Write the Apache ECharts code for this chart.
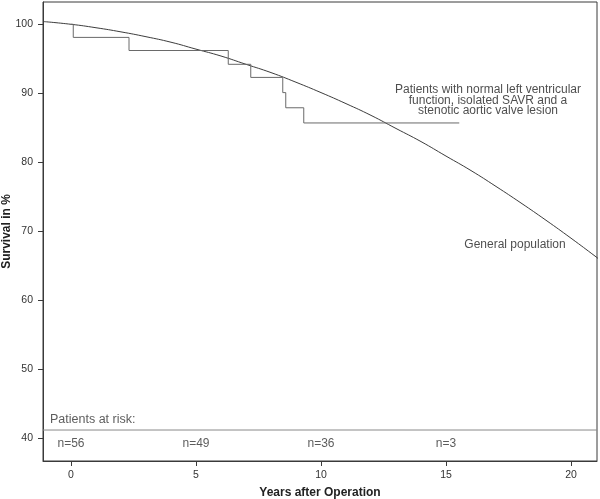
<!DOCTYPE html>
<html>
<head>
<meta charset="utf-8">
<script src="https://cdn.jsdelivr.net/npm/echarts@6/dist/echarts.min.js"></script>
<style>
html,body{margin:0;padding:0;background:#fff;}
#chart{width:600px;height:499px;}
</style>
</head>
<body>
<div id="chart"></div>
<script>
// Axis ticks
var xTicks = [0, 5, 10, 15, 20];
var yTicks = [40, 50, 60, 70, 80, 90, 100];

// General population expected survival
var genYears = [-1.12, 0, 1, 2, 3, 4, 5, 6, 7, 8, 9, 10, 11, 12, 13, 14, 15, 16, 17, 18, 19, 20, 21, 21.1];
var genSurv  = [100.4, 100, 99.5, 98.9, 98.2, 97.4, 96.4, 95.4, 94.2, 93.0, 91.6, 90.1, 88.5, 86.8, 84.9, 83.0, 80.9, 78.8, 76.5, 74.1, 71.6, 69.0, 66.3, 66.0];

// Kaplan-Meier survival of the patient group
var kmYears = [0, 0.09, 2.32, 6.29, 7.19, 8.47, 8.59, 9.31, 15.53];
var kmSurv  = [100, 98.1, 96.2, 94.2, 92.3, 90.1, 87.9, 85.7, 85.7];

// Patients at risk
var riskYears = [0, 5, 10, 15];
var riskCounts = [56, 49, 36, 3];
var riskTitle = 'Patients at risk:';
var riskLineY = 41.2;
var riskTextY = 39.2;
var riskTitlePos = [-0.84, 42.75];

// Annotations
var groupLabel = 'Patients with normal left ventricular\nfunction, isolated SAVR and a\nstenotic aortic valve lesion';
var groupLabelPos = [16.68, 89.0];
var popLabel = 'General population';
var popLabelPos = [17.76, 68.0];

var xMin = -1.12, xMax = 21.04, yMin = 36.71, yMax = 103.23;

function zip(a, b) { return a.map(function (v, i) { return [v, b[i]]; }); }

var FONT = '"Liberation Sans", Arial, sans-serif';
var chart = echarts.init(document.getElementById('chart'), null, {renderer: 'canvas'});

function textSeries(points, texts, opts) {
  return {
    type: 'scatter',
    symbolSize: 0,
    silent: true,
    z: 5,
    data: points.map(function (p, i) { return {value: p, name: texts[i]}; }),
    label: Object.assign({
      show: true,
      position: 'inside',
      formatter: function (p) { return p.name; },
      fontFamily: FONT,
      fontSize: 12,
      color: '#222',
      align: 'center',
      verticalAlign: 'middle'
    }, opts || {})
  };
}

var option = {
  animation: false,
  backgroundColor: '#fff',
  grid: {
    left: 43, right: 3, top: 2, bottom: 38,
    containLabel: false, outerBoundsMode: 'none',
    show: true, borderColor: '#3a3a3a', borderWidth: 1, backgroundColor: 'transparent'
  },
  xAxis: {
    type: 'value', min: xMin, max: xMax,
    name: 'Years after Operation', nameLocation: 'middle', nameGap: 26, nameMoveOverlap: false,
    nameTextStyle: {fontFamily: FONT, fontSize: 12, fontWeight: 'bold', color: '#222'},
    axisLine: {show: true, onZero: false, lineStyle: {color: '#3a3a3a', width: 1}},
    axisTick: {show: true, length: 5, customValues: xTicks, lineStyle: {color: '#3a3a3a'}},
    axisLabel: {customValues: xTicks, fontFamily: FONT, fontSize: 10.5, color: '#333', margin: 9},
    splitLine: {show: false}
  },
  yAxis: {
    type: 'value', min: yMin, max: yMax,
    name: 'Survival in %', nameLocation: 'middle', nameGap: 30, nameRotate: 90, nameMoveOverlap: false,
    nameTextStyle: {fontFamily: FONT, fontSize: 12, fontWeight: 'bold', color: '#222'},
    axisLine: {show: true, onZero: false, lineStyle: {color: '#3a3a3a', width: 1}},
    axisTick: {show: true, length: 5, customValues: yTicks, lineStyle: {color: '#3a3a3a'}},
    axisLabel: {customValues: yTicks, fontFamily: FONT, fontSize: 10.5, color: '#333', margin: 10},
    splitLine: {show: false}
  },
  series: [
    {
      type: 'line', name: 'General population',
      data: zip(genYears, genSurv), smooth: true, showSymbol: false, clip: true,
      lineStyle: {color: '#3c3c3c', width: 1}
    },
    {
      type: 'line', name: 'Patients',
      data: zip(kmYears, kmSurv), step: 'end', showSymbol: false, clip: true,
      lineStyle: {color: '#6a6a6a', width: 1}
    },
    {
      type: 'line', name: 'risk line',
      data: [[xMin, riskLineY], [xMax, riskLineY]], showSymbol: false,
      lineStyle: {color: '#8a8a8a', width: 1}
    },
    textSeries(riskYears.map(function (x) { return [x, riskTextY]; }),
               riskCounts.map(function (n) { return 'n=' + n; }), {color: '#333'}),
    textSeries([riskTitlePos], [riskTitle], {align: 'left', color: '#333', fontSize: 12.5}),
    textSeries([groupLabelPos], [groupLabel], {lineHeight: 10.5}),
    textSeries([popLabelPos], [popLabel])
  ]
};
chart.setOption(option);
</script>
</body>
</html>
